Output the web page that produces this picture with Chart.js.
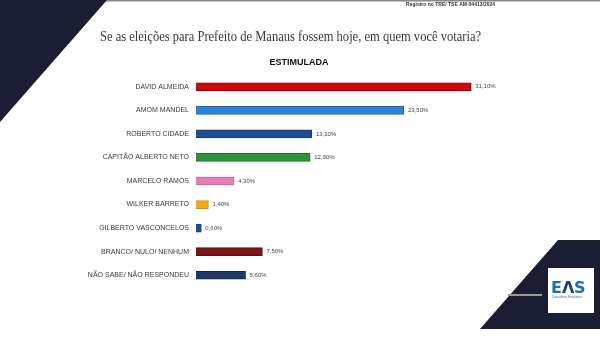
<!DOCTYPE html>
<html>
<head>
<meta charset="utf-8">
<script src="https://cdn.jsdelivr.net/npm/chart.js@4/dist/chart.umd.min.js"></script>
<style>
    html, body { margin: 0; padding: 0; background: #fff; }
    #wrap { width: 600px; height: 364px; position: relative; }
</style>
</head>
<body>
<div id="wrap"><canvas id="pollChart"></canvas></div>
<script>
// Poll data
var candidates = [
    'DAVID ALMEIDA',
    'AMOM MANDEL',
    'ROBERTO CIDADE',
    'CAPITÃO ALBERTO NETO',
    'MARCELO RAMOS',
    'WILKER BARRETO',
    'GILBERTO VASCONCELOS',
    'BRANCO/ NULO/ NENHUM',
    'NÃO SABE/ NÃO RESPONDEU'
];
var percents = [31.1, 23.5, 13.1, 12.9, 4.3, 1.4, 0.6, 7.5, 5.6];
var barColors = ['#cc0a0a', '#2f80d8', '#1f4f8f', '#2a9438', '#e87cb4', '#f4a81d', '#1f4f8f', '#7b1518', '#1f3a66'];
var barBorders = ['#9e0000', '#1e63b0', '#123a70', '#1c7429', '#d0609c', '#d98e0a', '#123a70', '#5a0c0e', '#11264a'];

var titleText = 'Se as eleições para Prefeito de Manaus fossem hoje, em quem você votaria?';
var subTitle = 'ESTIMULADA';
var registro = 'Registro no TRE/ TSE AM-04413/2024';

var SANS = "'Liberation Sans', Arial, sans-serif";

// Background shapes, titles and logo
var backdrop = {
    id: 'backdrop',
    beforeDraw: function (chart) {
        var ctx = chart.ctx;
        ctx.save();
        ctx.fillStyle = '#ffffff';
        ctx.fillRect(0, 0, chart.width, chart.height);

        // top border line
        ctx.fillStyle = '#8a8a8a';
        ctx.fillRect(0, 0, 600, 1.5);

        // top-left dark triangle
        ctx.fillStyle = '#1b1e32';
        ctx.beginPath();
        ctx.moveTo(0, 0);
        ctx.lineTo(107, 0);
        ctx.lineTo(0, 122);
        ctx.closePath();
        ctx.fill();

        // bottom-right dark shape
        ctx.beginPath();
        ctx.moveTo(558, 240);
        ctx.lineTo(600, 240);
        ctx.lineTo(600, 329);
        ctx.lineTo(480, 329);
        ctx.closePath();
        ctx.fill();

        // grey line in dark shape
        ctx.fillStyle = '#9a9a9a';
        ctx.fillRect(508, 294, 34, 2);

        // logo box
        ctx.fillStyle = '#ffffff';
        ctx.fillRect(548, 268, 46, 45);
        ctx.textBaseline = 'alphabetic';
        ctx.textAlign = 'left';
        ctx.font = "bold 16px 'DejaVu Sans', sans-serif";
        ctx.fillStyle = '#1d6fae';
        ctx.fillText('E', 551, 293);
        ctx.fillStyle = '#1a3f73';
        ctx.fillText('Λ', 562, 293);
        ctx.fillStyle = '#1d6fae';
        ctx.fillText('S', 574, 293);
        ctx.font = "3px " + SANS;
        ctx.fillText('Consultoria Estatística', 552, 298);

        // registro
        ctx.font = "bold 5px " + SANS;
        ctx.fillStyle = '#333333';
        ctx.textAlign = 'right';
        ctx.textBaseline = 'middle';
        ctx.fillText(registro, 495, 5);

        // title (squeezed serif)
        ctx.font = "14px 'Liberation Serif', 'DejaVu Serif', serif";
        ctx.fillStyle = '#3a3a3a';
        ctx.textAlign = 'left';
        var w = ctx.measureText(titleText).width;
        ctx.save();
        ctx.translate(100, 37);
        ctx.scale(381 / w, 1);
        ctx.fillText(titleText, 0, 0);
        ctx.restore();

        // subtitle
        ctx.font = "bold 9px " + SANS;
        ctx.fillStyle = '#111111';
        ctx.textAlign = 'center';
        ctx.fillText(subTitle, 299, 63);
        ctx.restore();
    }
};

// Value labels at bar ends
var valueLabels = {
    id: 'valueLabels',
    afterDatasetsDraw: function (chart) {
        var ctx = chart.ctx;
        var meta = chart.getDatasetMeta(0);
        ctx.save();
        ctx.font = '6px ' + SANS;
        ctx.fillStyle = '#444444';
        ctx.textAlign = 'left';
        ctx.textBaseline = 'middle';
        meta.data.forEach(function (bar, i) {
            var txt = percents[i].toFixed(2).replace('.', ',') + '%';
            ctx.fillText(txt, bar.x + 4, bar.y);
        });
        ctx.restore();
    }
};

var ctx = document.getElementById('pollChart').getContext('2d');
var pollChart = new Chart(ctx, {
    type: 'bar',
    data: {
        labels: candidates,
        datasets: [{
            data: percents,
            backgroundColor: barColors,
            borderColor: barBorders,
            borderWidth: 1,
            barThickness: 8
        }]
    },
    options: {
        indexAxis: 'y',
        responsive: true,
        maintainAspectRatio: false,
        animation: false,
        layout: {
            padding: { top: 75, bottom: 77, left: 0, right: 50 }
        },
        plugins: {
            legend: { display: false },
            tooltip: { enabled: false }
        },
        scales: {
            x: {
                display: false,
                min: 0,
                max: 40
            },
            y: {
                grid: { display: false, drawTicks: false },
                border: { display: false },
                afterFit: function (scale) {
                    scale.width = 196;
                },
                ticks: {
                    padding: 7,
                    color: '#3a3a3a',
                    font: { size: 7, family: SANS }
                }
            }
        }
    },
    plugins: [backdrop, valueLabels]
});
</script>
</body>
</html>
